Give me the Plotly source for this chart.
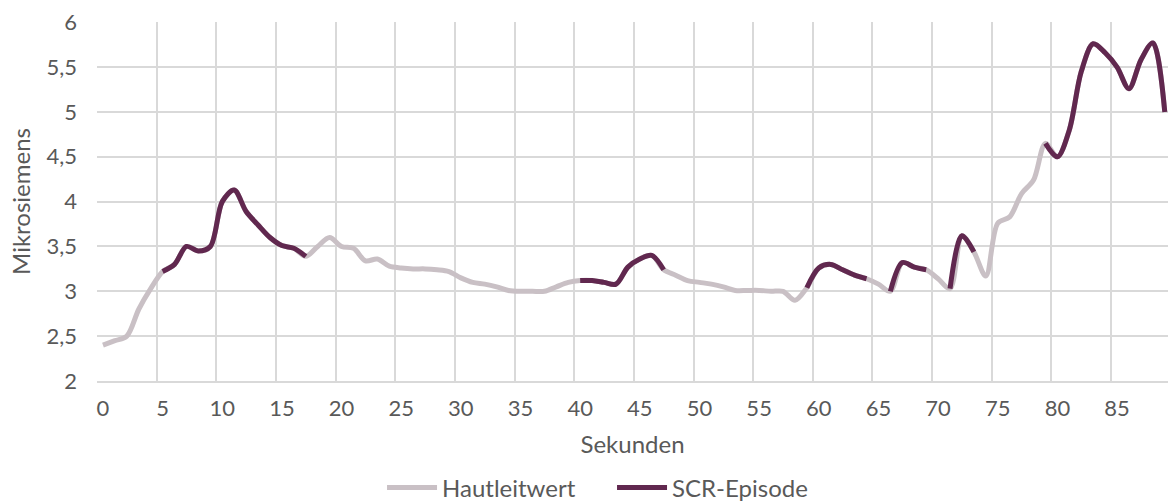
import plotly.graph_objects as go

# Sekunden 0..89, ein Messwert pro Sekunde
sekunden = list(range(90))
hautleitwert = [
    2.40, 2.45, 2.50, 2.80, 3.03, 3.22, 3.30, 3.50, 3.45, 3.50,
    4.00, 4.13, 3.89, 3.74, 3.60, 3.51, 3.48, 3.39, 3.50, 3.60,
    3.50, 3.48, 3.34, 3.36, 3.28, 3.26, 3.25, 3.25, 3.24, 3.22,
    3.15, 3.10, 3.08, 3.05, 3.01, 3.00, 3.00, 3.00, 3.05, 3.10,
    3.12, 3.12, 3.10, 3.08, 3.27, 3.36, 3.40, 3.24, 3.18, 3.12,
    3.10, 3.08, 3.05, 3.01, 3.01, 3.01, 3.00, 3.00, 2.90, 3.04,
    3.26, 3.30, 3.24, 3.18, 3.14, 3.08, 3.00, 3.32, 3.27, 3.24,
    3.14, 3.03, 3.62, 3.44, 3.17, 3.76, 3.83, 4.09, 4.24, 4.65,
    4.50, 4.80, 5.45, 5.76, 5.66, 5.50, 5.26, 5.58, 5.77, 5.00,
]
# SCR-Episoden (Start, Ende) in Sekunden
episoden = [(5, 17), (40, 47), (59, 64), (66, 69), (71, 73), (79, 89)]
x_ticks = list(range(0, 90, 5))
y_ticks = [2, 2.5, 3, 3.5, 4, 4.5, 5, 5.5, 6]

scr = [None] * len(sekunden)
for start, ende in episoden:
    for i in range(start, ende + 1):
        scr[i] = hautleitwert[i]

GRAU = "#C9C0C5"
LILA = "#61284F"
GRID = "#D9D9D9"
TEXT = "#595959"

fig = go.Figure()
fig.add_trace(go.Scatter(
    x=sekunden, y=hautleitwert, mode="lines", name="Hautleitwert",
    line=dict(color=GRAU, width=5, shape="spline", smoothing=0.9),
))
fig.add_trace(go.Scatter(
    x=sekunden, y=scr, mode="lines", name="SCR-Episode", connectgaps=False,
    line=dict(color=LILA, width=5, shape="spline", smoothing=0.9),
))

fig.update_layout(
    width=1168, height=503,
    template="plotly_white",
    plot_bgcolor="white", paper_bgcolor="white",
    separators=",.",
    font=dict(family="Lato, 'Open Sans', sans-serif", size=22, color=TEXT),
    margin=dict(l=97, r=0, t=22, b=122, autoexpand=False),
    showlegend=True,
    legend=dict(
        orientation="h", xref="container", yref="container",
        x=0.524, y=0.03, xanchor="center", yanchor="middle",
        font=dict(size=24, color=TEXT), itemwidth=50, entrywidth=165,
        tracegroupgap=0,
    ),
)
fig.update_xaxes(
    automargin=False,
    range=[-0.5, 89.27],
    tickmode="array", tickvals=x_ticks,
    showgrid=False, zeroline=False,
    showline=True, linecolor=GRID, linewidth=1.5,
    minor=dict(tick0=-0.5, dtick=5, showgrid=True, gridcolor=GRID, gridwidth=1.5),
    ticks="", ticklabelstandoff=7,
    title=dict(text="Sekunden", font=dict(size=24, color=TEXT), standoff=16),
)
fig.update_yaxes(
    automargin=False,
    range=[2, 6.003],
    tickmode="array", tickvals=y_ticks,
    showgrid=True, gridcolor=GRID, gridwidth=1.5,
    zeroline=False, showline=False,
    ticks="", ticklabelstandoff=19,
    title=dict(text="Mikrosiemens", font=dict(size=24, color=TEXT), standoff=9),
)

# drop the default 8px body margin so the figure fills the window exactly
fig.write_html(
    "out.html",
    config={"displayModeBar": False},
    post_script="document.body.style.margin = '0';",
)
